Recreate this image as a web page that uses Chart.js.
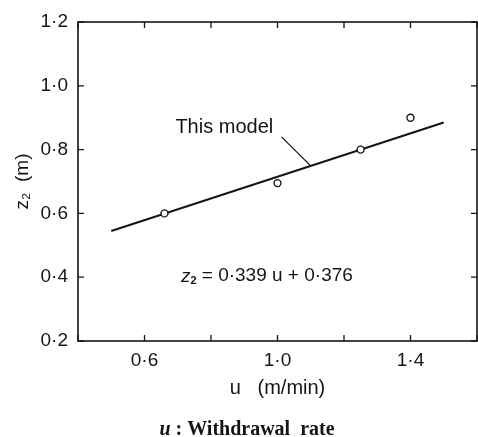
<!DOCTYPE html>
<html><head><meta charset="utf-8">
<script src="https://cdn.jsdelivr.net/npm/chart.js@4"></script>
<style>html,body{margin:0;padding:0;background:#fff}#wrap{width:478px;height:437px;position:relative}</style>
</head><body><div id="wrap"><canvas id="c"></canvas></div>
<script>
// Measured data points
const uMeasured = [0.66, 1.0, 1.25, 1.4];
const z2Measured = [0.6, 0.695, 0.8, 0.9];
// Model line (z2 = 0.339u + 0.376) end points
const uModel = [0.5, 1.5];
const z2Model = [0.545, 0.885];
// Leader line from label to model line
const uLeader = [1.012, 1.1];
const z2Leader = [0.84, 0.749];
// Tick labels
const xTickValues = [0.6, 1.0, 1.4];
const xTickText = ['0·6', '1·0', '1·4'];
const yTickValues = [0.2, 0.4, 0.6, 0.8, 1.0, 1.2];
const yTickText = ['0·2', '0·4', '0·6', '0·8', '1·0', '1·2'];
// Annotation anchors (data coordinates)
const modelLabelAt = {u: 0.84, z: 0.868};
const equationAt = {u: 0.968, z: 0.403};

const toPts = (xs, ys) => xs.map((x, i) => ({x, y: ys[i]}));
const pick = (vals, texts, v) => { const i = vals.findIndex(t => Math.abs(t - v) < 1e-6); return i >= 0 ? texts[i] : ''; };
const INK = '#151515';
const SANS = '"Liberation Sans", Arial, sans-serif';
const SERIF = '"Liberation Serif", "Times New Roman", serif';

const framePlugin = {
  id: 'frame',
  afterDraw(chart) {
    const {ctx, chartArea: a, scales: {x, y}} = chart;
    ctx.save();
    ctx.strokeStyle = INK; ctx.lineWidth = 1.6;
    ctx.strokeRect(a.left, a.top, a.right - a.left, a.bottom - a.top);
    const L = 6;
    ctx.beginPath();
    x.ticks.forEach(t => {
      const px = x.getPixelForValue(t.value);
      ctx.moveTo(px, a.bottom); ctx.lineTo(px, a.bottom - L);
      ctx.moveTo(px, a.top); ctx.lineTo(px, a.top + L);
    });
    y.ticks.forEach(t => {
      const py = y.getPixelForValue(t.value);
      ctx.moveTo(a.left, py); ctx.lineTo(a.left + L, py);
      ctx.moveTo(a.right, py); ctx.lineTo(a.right - L, py);
    });
    ctx.lineWidth = 1.3; ctx.stroke();

    ctx.fillStyle = INK; ctx.textBaseline = 'middle';
    ctx.font = '20px ' + SANS; ctx.textAlign = 'center';
    ctx.fillText('This model', x.getPixelForValue(modelLabelAt.u), y.getPixelForValue(modelLabelAt.z));
    const parts = [
      {t: 'z', f: 'italic 19px ' + SANS, dy: 0},
      {t: '2', f: 'bold 11px ' + SANS, dy: 5},
      {t: ' = 0·339 u + 0·376', f: '19px ' + SANS, dy: 0}
    ];
    drawParts(ctx, parts, x.getPixelForValue(equationAt.u), y.getPixelForValue(equationAt.z));
    const cap = [
      {t: 'u', f: 'italic bold 20px ' + SERIF, dy: 0},
      {t: ' : Withdrawal  rate', f: 'bold 20px ' + SERIF, dy: 0}
    ];
    drawParts(ctx, cap, 247, 430);
    ctx.restore();
  }
};
function drawParts(ctx, parts, cx, cy) {
  let w = 0;
  parts.forEach(p => { ctx.font = p.f; p.w = ctx.measureText(p.t).width; w += p.w; });
  let xx = cx - w / 2;
  ctx.textAlign = 'left';
  parts.forEach(p => { ctx.font = p.f; ctx.fillText(p.t, xx, cy + p.dy); xx += p.w; });
}

new Chart(document.getElementById('c'), {
  type: 'scatter',
  data: {
    datasets: [
      {label: 'This model', data: toPts(uModel, z2Model), showLine: true, borderColor: INK, borderWidth: 2, pointRadius: 0, order: 2},
      {label: 'Leader', data: toPts(uLeader, z2Leader), showLine: true, borderColor: INK, borderWidth: 1.3, pointRadius: 0, order: 3},
      {label: 'Measured', data: toPts(uMeasured, z2Measured), showLine: false, pointStyle: 'circle', pointRadius: 3.5,
       borderColor: INK, borderWidth: 1.4, backgroundColor: '#fff', order: 1}
    ]
  },
  options: {
    responsive: true, maintainAspectRatio: false, animation: false,
    layout: {autoPadding: false, padding: {top: 22, right: 1, bottom: 36, left: 0}},
    plugins: {legend: {display: false}, tooltip: {enabled: false}},
    scales: {
      x: {
        type: 'linear', min: 0.4, max: 1.6,
        afterFit: s => { s.height = 60; s.paddingLeft = 0; s.paddingRight = 0; },
        border: {display: false},
        grid: {display: false, drawTicks: false},
        ticks: {stepSize: 0.2, autoSkip: false, maxRotation: 0, padding: 8, color: INK,
                font: {family: SANS, size: 19}, callback: v => pick(xTickValues, xTickText, v)},
        title: {display: true, text: 'u   (m/min)', color: INK, font: {family: SANS, size: 20}, padding: {top: 0, bottom: 1}}
      },
      y: {
        type: 'linear', min: 0.2, max: 1.2,
        afterFit: s => { s.width = 78; s.paddingTop = 0; s.paddingBottom = 0; },
        border: {display: false},
        grid: {display: false, drawTicks: false},
        ticks: {stepSize: 0.2, autoSkip: false, padding: 10, color: INK,
                font: {family: SANS, size: 19}, callback: v => pick(yTickValues, yTickText, v)},
        title: {display: true, text: 'z₂  (m)', color: INK, font: {family: SANS, size: 19}, padding: {top: 11, bottom: 0}}
      }
    }
  },
  plugins: [framePlugin]
});
</script>
</body></html>
